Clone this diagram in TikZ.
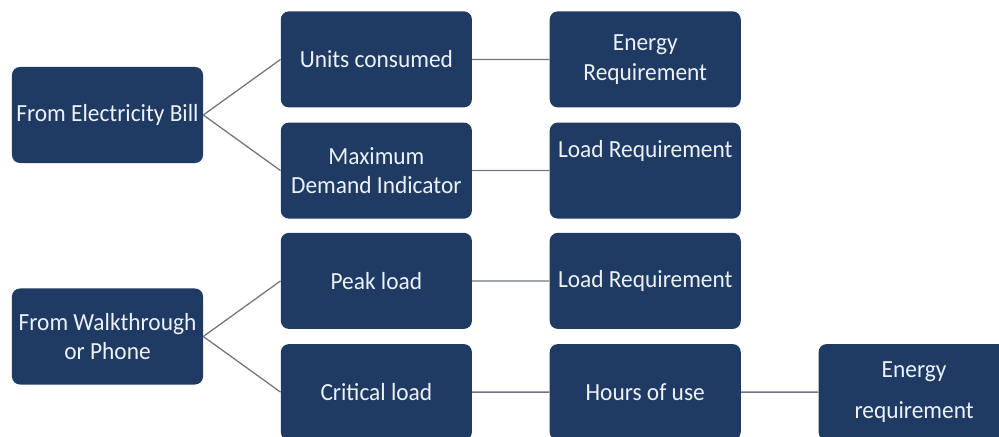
\documentclass[tikz,border=0pt]{standalone}
\usepackage{fontspec}
\setmainfont[FakeStretch=0.95]{Carlito}
\definecolor{NavyBox}{RGB}{31,59,99}
\definecolor{LinkGray}{RGB}{110,116,128}
\definecolor{BoxText}{RGB}{236,241,246}
\usepackage{tikz}
\usetikzlibrary{positioning}

\begin{document}
\begin{tikzpicture}[x=0.025cm, y=0.025cm,
      grow'=right,
      level distance=6.72cm,
      level 1/.style={sibling distance=2.78cm},
      every node/.style={rectangle, rounded corners=0.2cm, fill=NavyBox, text=BoxText, font=\fontsize{17.5}{21}\selectfont, align=center, minimum width=4.775cm, minimum height=2.4cm, inner sep=2pt},
      edge from parent/.style={draw=LinkGray, line width=0.9pt},
      edge from parent path={(\tikzparentnode.east) -- (\tikzchildnode.west)}
    ]
      \useasboundingbox (0,0) rectangle (999,436);
      \node (bill) at (107.5,321) {From Electricity Bill}
        child {node (units) {Units consumed}
          child {node (energyA) {Energy\\Requirement}}
        }
        child {node (demand) {Maximum\\Demand Indicator}
          child {node (loadA) {Load Requirement\\[10pt]~}}
        };
      \node (walk) at (107.5,99.5) {From Walkthrough\\or Phone}
        child {node (peak) {Peak load}
          child {node (loadB) {Load Requirement}}
        }
        child {node (critical) {Critical load}
          child {node (hours) {Hours of use}
            child {node (energyB) {Energy\\[8pt]requirement}}
          }
        };
    \end{tikzpicture}
\end{document}
